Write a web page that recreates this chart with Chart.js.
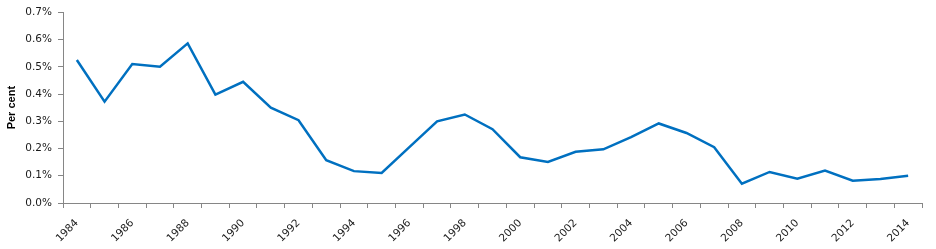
<!DOCTYPE html>
<html>
<head>
<meta charset="utf-8">
<script src="https://cdn.jsdelivr.net/npm/chart.js@4/dist/chart.umd.min.js"></script>
<style>
html,body{margin:0;padding:0;background:#fff;}
#wrap{width:936px;height:249px;position:relative;}
</style>
</head>
<body>
<div id="wrap"><canvas id="c"></canvas></div>
<script>
const years = ['1984','1985','1986','1987','1988','1989','1990','1991','1992','1993','1994','1995','1996','1997','1998','1999','2000','2001','2002','2003','2004','2005','2006','2007','2008','2009','2010','2011','2012','2013','2014'];
const percentValues = [0.525,0.372,0.510,0.500,0.586,0.398,0.445,0.350,0.304,0.157,0.117,0.110,0.205,0.300,0.325,0.271,0.168,0.151,0.188,0.197,0.242,0.292,0.257,0.205,0.071,0.114,0.089,0.119,0.082,0.088,0.100];
const yTicks = [0,0.1,0.2,0.3,0.4,0.5,0.6,0.7];
const yTitle = 'Per cent';

const axisColor = '#868686';
new Chart(document.getElementById('c'), {
  type: 'line',
  data: {
    labels: years,
    datasets: [{
      data: percentValues,
      borderColor: '#0070C0',
      borderWidth: 2.5,
      pointRadius: 0,
      tension: 0,
      fill: false
    }]
  },
  options: {
    responsive: true,
    maintainAspectRatio: false,
    animation: false,
    layout: { padding: { top: 11, right: 14, bottom: 0, left: 0 } },
    plugins: { legend: { display: false }, tooltip: { enabled: false } },
    scales: {
      x: {
        type: 'category',
        offset: true,
        afterFit: (s) => { s.height = 46; },
        grid: { display: true, drawOnChartArea: false, offset: true, tickLength: 5, color: axisColor },
        border: { display: true, color: axisColor, width: 1 },
        ticks: {
          autoSkip: false,
          maxRotation: 45,
          minRotation: 45,
          color: '#1a1a1a',
          font: { family: 'DejaVu Sans', size: 10.5 },
          padding: 9,
          callback: function(v, i) { return i % 2 === 0 ? years[i] : ''; }
        }
      },
      y: {
        min: 0,
        max: 0.7,
        afterFit: (s) => { s.width = 63; },
        afterBuildTicks: (s) => { s.ticks = yTicks.map(v => ({ value: v })); },
        grid: { display: true, drawOnChartArea: false, tickLength: 5, color: axisColor },
        border: { display: true, color: axisColor, width: 1 },
        ticks: {
          color: '#1a1a1a',
          font: { family: 'DejaVu Sans', size: 10.5 },
          padding: 6,
          callback: (v) => Number(v).toFixed(1) + '%'
        },
        title: {
          display: true,
          text: yTitle,
          color: '#000',
          font: { family: 'Liberation Sans', size: 11, weight: 'bold' },
          padding: { top: 5, bottom: 0 }
        }
      }
    }
  }
});
</script>
</body>
</html>
